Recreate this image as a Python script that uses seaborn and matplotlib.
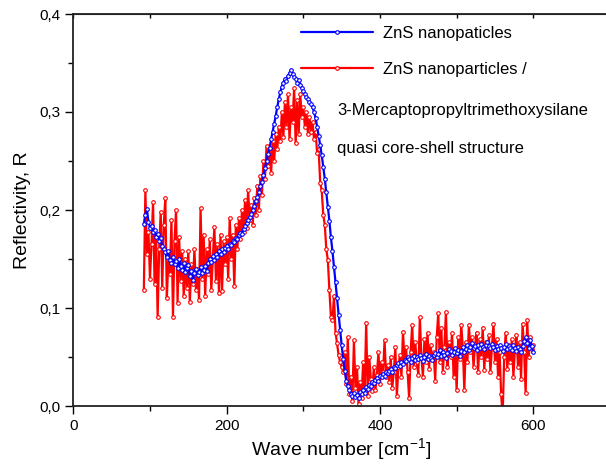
import numpy as np
import pandas as pd
import matplotlib
matplotlib.use('Agg')
import matplotlib.pyplot as plt
from matplotlib.ticker import FuncFormatter, MultipleLocator
from matplotlib.lines import Line2D
import seaborn as sns

# wave number grid, cm^-1
wave_number = list(range(92, 601, 2))

# ZnS nanopaticles (blue)
refl_zns = [
    0.186, 0.195, 0.201, 0.188, 0.182, 0.184, 0.178, 0.180, 0.172, 0.176,
    0.168, 0.171, 0.163, 0.160, 0.157, 0.152, 0.158, 0.149, 0.146, 0.152,
    0.145, 0.148, 0.141, 0.150, 0.143, 0.139, 0.146, 0.137, 0.141, 0.144,
    0.133, 0.138, 0.129, 0.136, 0.140, 0.134, 0.137, 0.142, 0.136, 0.139,
    0.143, 0.138, 0.146, 0.150, 0.147, 0.153, 0.149, 0.155, 0.152, 0.158,
    0.155, 0.160, 0.157, 0.161, 0.163, 0.160, 0.165, 0.164, 0.168, 0.167,
    0.171, 0.170, 0.174, 0.177, 0.176, 0.181, 0.184, 0.187, 0.190, 0.193,
    0.196, 0.200, 0.204, 0.209, 0.213, 0.218, 0.224, 0.229, 0.236, 0.243,
    0.250, 0.257, 0.263, 0.272, 0.280, 0.288, 0.296, 0.305, 0.313, 0.320,
    0.326, 0.330, 0.334, 0.332, 0.337, 0.340, 0.343, 0.339, 0.336, 0.334,
    0.330, 0.333, 0.328, 0.325, 0.321, 0.318, 0.315, 0.313, 0.310, 0.308,
    0.305, 0.300, 0.294, 0.285, 0.276, 0.266, 0.256, 0.244, 0.232, 0.218,
    0.203, 0.189, 0.172, 0.158, 0.142, 0.127, 0.110, 0.093, 0.078, 0.062,
    0.048, 0.036, 0.026, 0.020, 0.016, 0.012, 0.010, 0.013, 0.009, 0.011,
    0.008, 0.014, 0.012, 0.016, 0.013, 0.019, 0.017, 0.021, 0.020, 0.025,
    0.023, 0.027, 0.029, 0.026, 0.031, 0.030, 0.033, 0.031, 0.035, 0.034,
    0.036, 0.038, 0.035, 0.040, 0.039, 0.042, 0.044, 0.041, 0.045, 0.043,
    0.047, 0.046, 0.050, 0.048, 0.045, 0.049, 0.051, 0.047, 0.050, 0.048,
    0.052, 0.049, 0.046, 0.050, 0.053, 0.048, 0.051, 0.049, 0.047, 0.052,
    0.054, 0.050, 0.053, 0.057, 0.051, 0.055, 0.052, 0.049, 0.054, 0.058,
    0.056, 0.052, 0.055, 0.059, 0.054, 0.057, 0.051, 0.056, 0.060, 0.055,
    0.058, 0.062, 0.057, 0.060, 0.064, 0.059, 0.061, 0.057, 0.062, 0.059,
    0.063, 0.060, 0.058, 0.062, 0.065, 0.061, 0.059, 0.063, 0.060, 0.057,
    0.061, 0.058, 0.062, 0.059, 0.056, 0.060, 0.063, 0.058, 0.061, 0.059,
    0.057, 0.062, 0.059, 0.056, 0.060, 0.058, 0.055, 0.061, 0.066, 0.070,
    0.064, 0.059, 0.067, 0.061, 0.055,
]

# ZnS nanoparticles / 3-Mercaptopropyltrimethoxysilane (red)
refl_shell = [
    0.118, 0.220, 0.155, 0.178, 0.130, 0.165, 0.208, 0.125, 0.175, 0.091,
    0.160, 0.198, 0.120, 0.185, 0.212, 0.110, 0.150, 0.135, 0.190, 0.091,
    0.168, 0.200, 0.105, 0.172, 0.128, 0.158, 0.112, 0.150, 0.120, 0.158,
    0.106, 0.145, 0.125, 0.160, 0.118, 0.140, 0.108, 0.202, 0.130, 0.175,
    0.112, 0.160, 0.135, 0.170, 0.118, 0.150, 0.183, 0.128, 0.165, 0.115,
    0.175, 0.117, 0.168, 0.145, 0.172, 0.130, 0.192, 0.150, 0.175, 0.122,
    0.185, 0.160, 0.192, 0.170, 0.200, 0.178, 0.210, 0.182, 0.220, 0.190,
    0.205, 0.185, 0.212, 0.195, 0.225, 0.200, 0.235, 0.215, 0.250, 0.232,
    0.265, 0.245, 0.262, 0.238, 0.270, 0.250, 0.278, 0.262, 0.285, 0.270,
    0.300, 0.275, 0.310, 0.285, 0.318, 0.272, 0.305, 0.290, 0.324, 0.268,
    0.312, 0.278, 0.318, 0.295, 0.305, 0.285, 0.300, 0.278, 0.295, 0.280,
    0.290, 0.272, 0.280, 0.258, 0.262, 0.228, 0.220, 0.195, 0.185, 0.160,
    0.149, 0.118, 0.091, 0.088, 0.112, 0.075, 0.064, 0.052, 0.045, 0.040,
    0.035, 0.055, 0.022, 0.070, 0.012, 0.030, 0.005, 0.067, 0.018, 0.040,
    0.002, 0.025, 0.008, 0.045, 0.015, 0.085, 0.010, 0.050, 0.028, 0.015,
    0.040, 0.016, 0.032, 0.055, 0.022, 0.045, 0.035, 0.067, 0.030, 0.042,
    0.025, 0.050, 0.018, 0.035, 0.060, 0.010, 0.040, 0.052, 0.030, 0.076,
    0.045, 0.060, 0.035, 0.008, 0.055, 0.083, 0.040, 0.065, 0.045, 0.032,
    0.091, 0.050, 0.030, 0.068, 0.045, 0.075, 0.038, 0.062, 0.048, 0.055,
    0.026, 0.070, 0.095, 0.045, 0.080, 0.035, 0.060, 0.096, 0.040, 0.065,
    0.050, 0.075, 0.030, 0.055, 0.016, 0.070, 0.048, 0.083, 0.060, 0.016,
    0.065, 0.045, 0.083, 0.055, 0.070, 0.040, 0.062, 0.075, 0.035, 0.068,
    0.050, 0.080, 0.037, 0.065, 0.048, 0.072, 0.035, 0.060, 0.084, 0.045,
    0.068, 0.030, 0.055, 0.012, -0.010, 0.050, 0.075, 0.038, 0.062, 0.045,
    0.068, 0.030, 0.058, 0.072, 0.040, 0.065, 0.028, 0.084, 0.055, 0.013,
    0.088, 0.050, 0.070, 0.058, 0.062,
]

label_zns = 'ZnS nanopaticles'
label_shell = 'ZnS nanoparticles /'
extra_lines = ['3-Mercaptopropyltrimethoxysilane', 'quasi core-shell structure']

sns.set_style('ticks')
plt.rcParams['font.family'] = ['Liberation Sans', 'DejaVu Sans']
plt.rcParams['mathtext.fontset'] = 'custom'
plt.rcParams['mathtext.rm'] = 'Liberation Sans'
plt.rcParams['text.color'] = 'black'
plt.rcParams['axes.labelcolor'] = 'black'
plt.rcParams['xtick.color'] = 'black'
plt.rcParams['ytick.color'] = 'black'

df = pd.DataFrame({'x': wave_number, 'zns': refl_zns, 'shell': refl_shell})

fig = plt.figure(figsize=(6.06, 4.68), dpi=100)
W, H = 606, 468
ax = fig.add_axes([73.3 / W, (H - 406) / H, (610 - 73.3) / W, (406 - 14) / H])

mk = dict(marker='o', markersize=2.6, markerfacecolor='white', markeredgewidth=0.8)
sns.lineplot(data=df, x='x', y='shell', ax=ax, color='#ff0000', linewidth=1.6,
             markeredgecolor='#ff0000', estimator=None, **mk)
sns.lineplot(data=df, x='x', y='zns', ax=ax, color='#0000ff', linewidth=1.6,
             markeredgecolor='#0000ff', estimator=None, **mk)

ax.set_xlim(0, 700)
ax.set_ylim(0, 0.4)
ax.xaxis.set_major_locator(MultipleLocator(200))
ax.xaxis.set_minor_locator(MultipleLocator(100))
ax.yaxis.set_major_locator(MultipleLocator(0.1))
ax.yaxis.set_minor_locator(MultipleLocator(0.05))
ax.yaxis.set_major_formatter(FuncFormatter(lambda v, p: f'{v:.1f}'.replace('.', ',')))
ax.tick_params(which='major', direction='out', length=6, width=1, labelsize=11)
ax.tick_params(which='minor', direction='out', length=3.5, width=1)

for s in ax.spines.values():
    s.set_linewidth(1.3)
    s.set_color('#222222')

top = ax.secondary_xaxis('top')
top.xaxis.set_major_locator(MultipleLocator(100))
top.tick_params(direction='in', length=3, width=1, labeltop=False)

ax.set_xlabel('Wave number [cm$^{-1}$]', fontsize=14, labelpad=2)
ax.set_ylabel('Reflectivity, R', fontsize=14, labelpad=6)

handles = [
    Line2D([], [], color='#0000ff', linewidth=1.6, markeredgecolor='#0000ff', **mk),
    Line2D([], [], color='#ff0000', linewidth=1.6, markeredgecolor='#ff0000', **mk),
]
ax.legend(handles, [label_zns, label_shell], loc='upper left', frameon=False,
          bbox_to_anchor=(301 / W, 1 - 26 / H), bbox_transform=fig.transFigure,
          borderpad=0, borderaxespad=0, fontsize=12, handlelength=4.3,
          handletextpad=0.6, labelspacing=1.25)
for i, t in enumerate(extra_lines):
    fig.text(337 / W, 1 - (110 + 38 * i) / H, t, fontsize=12, va='center', ha='left')

fig.savefig('out.png', dpi=100)
